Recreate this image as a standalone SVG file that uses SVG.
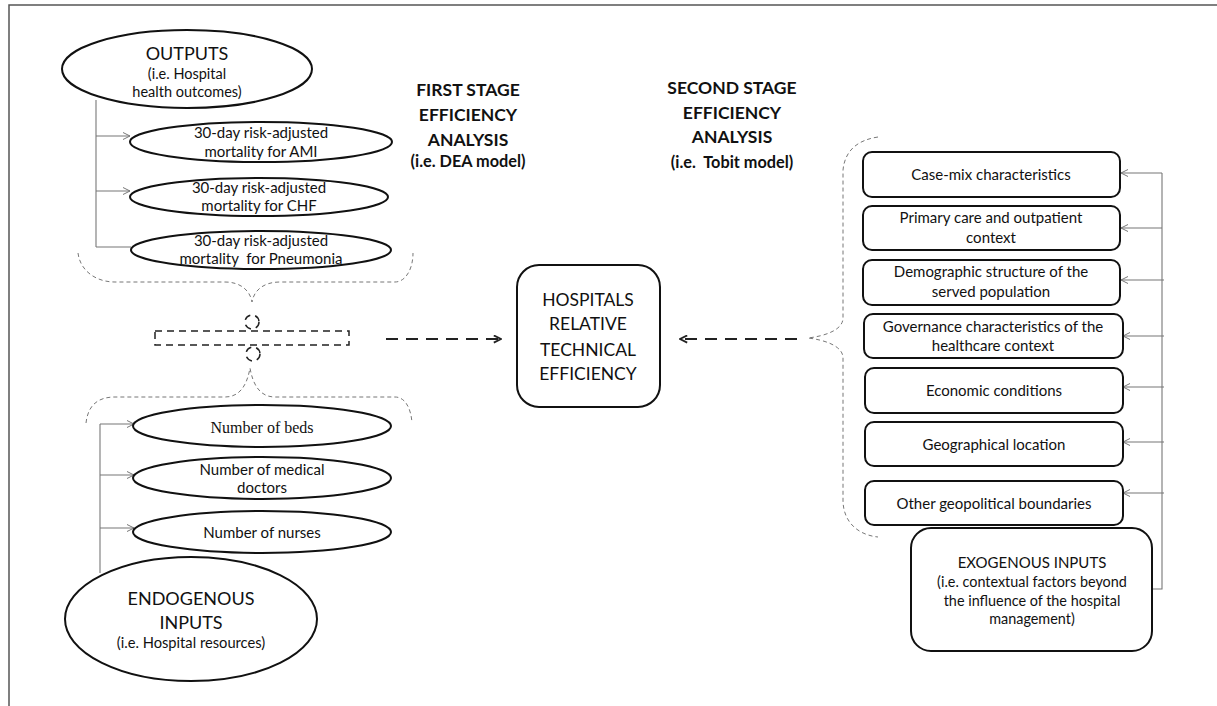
<svg xmlns="http://www.w3.org/2000/svg" width="1217" height="706" viewBox="0 0 1217 706">
<defs>
<style>
.t{font-family:Lato,"Liberation Sans",sans-serif;fill:#111;text-anchor:middle}
.s14{font-size:15px}
.b{font-weight:bold}
.node{fill:#fff;stroke:#111;stroke-width:2}
.link{fill:none;stroke:#777;stroke-width:1.1}
.brace{fill:none;stroke:#777;stroke-width:1;stroke-dasharray:4 3}
.dash{fill:none;stroke:#222;stroke-width:1.5;stroke-dasharray:7 5}
.bigdash{fill:none;stroke:#222;stroke-width:2;stroke-dasharray:12 8}
</style>
<marker id="ah" viewBox="0 0 8 8" refX="7.5" refY="4" markerWidth="8" markerHeight="8" markerUnits="userSpaceOnUse" orient="auto">
<path d="M0.5,0.5 L7.5,4 L0.5,7.5" fill="none" stroke="#777" stroke-width="1"/>
</marker>
<marker id="ahd" viewBox="0 0 10 10" refX="9" refY="5" markerWidth="9" markerHeight="9" markerUnits="userSpaceOnUse" orient="auto">
<path d="M1,1 L9,5 L1,9" fill="none" stroke="#222" stroke-width="2"/>
</marker>
</defs>
<rect width="1217" height="706" fill="#fff"/>
<path d="M9,706 L9,5 L1217,5" fill="none" stroke="#555" stroke-width="1.5"/>

<g id="connectors">
<path class="link" d="M96,100 L96,247"/>
<path class="link" d="M96,136 L130,136" marker-end="url(#ah)"/>
<path class="link" d="M96,191 L130,191" marker-end="url(#ah)"/>
<path class="link" d="M96,247 L131,247"/>
<path class="link" d="M100,573 L100,424"/>
<path class="link" d="M100,424 L134,424" marker-end="url(#ah)"/>
<path class="link" d="M100,475 L134,475" marker-end="url(#ah)"/>
<path class="link" d="M100,528 L134,528" marker-end="url(#ah)"/>
<path class="link" d="M1152,589 L1162,589 L1162,173"/>
<path class="link" d="M1162,173 L1121,173" marker-end="url(#ah)"/>
<path class="link" d="M1162,228 L1121,228" marker-end="url(#ah)"/>
<path class="link" d="M1164,280 L1121,280" marker-end="url(#ah)"/>
<path class="link" d="M1164,336 L1123,336" marker-end="url(#ah)"/>
<path class="link" d="M1164,387 L1123,387" marker-end="url(#ah)"/>
<path class="link" d="M1164,442 L1123,442" marker-end="url(#ah)"/>
<path class="link" d="M1164,493 L1123,493" marker-end="url(#ah)"/>
<path class="brace" d="M78,253 C80,270 95,282 115,282 L225,282 C240,282 250,290 252,302 C254,290 264,282 280,282 L395,282 C405,282 413,270 413,253"/>
<path class="brace" d="M86,423 C88,405 98,397 115,397 L225,397 C240,397 247,385 250,368 C253,385 260,397 275,397 L395,397 C405,397 411,408 412,423"/>
<path class="brace" d="M878,137 C858,140 845,150 843,170 L843,318 C843,330 825,336 808,338 C825,340 843,346 843,358 L843,500 C843,522 858,535 878,537"/>
<path class="bigdash" d="M386,339 L501,339" marker-end="url(#ahd)"/>
<path class="bigdash" d="M797,339 L680,339" marker-end="url(#ahd)"/>
</g>

<g id="join">
<circle class="dash" cx="252" cy="322" r="7" stroke-dasharray="6 4"/>
<rect class="dash" x="155" y="331" width="194" height="14"/>
<circle class="dash" cx="253" cy="354" r="7" stroke-dasharray="6 4"/>
</g>

<g id="outputs">
<ellipse class="node" cx="187" cy="69" rx="125" ry="39"/>
<text class="t" x="187" y="60" font-size="18">OUTPUTS</text>
<text class="t" x="187" y="79" font-size="14.5">(i.e. Hospital</text>
<text class="t" x="187" y="97" font-size="14.5">health outcomes)</text>
</g>
<g id="out-ami">
<ellipse class="node" cx="261" cy="142" rx="131" ry="20"/>
<text class="t s14" x="261" y="138">30-day risk-adjusted</text>
<text class="t s14" x="261" y="157">mortality for AMI</text>
</g>
<g id="out-chf">
<ellipse class="node" cx="259" cy="197" rx="129" ry="19"/>
<text class="t s14" x="259" y="193">30-day risk-adjusted</text>
<text class="t s14" x="259" y="211">mortality for CHF</text>
</g>
<g id="out-pneu">
<ellipse class="node" cx="261" cy="250" rx="130" ry="19"/>
<text class="t s14" x="261" y="246">30-day risk-adjusted</text>
<text class="t s14" x="261" y="264" xml:space="preserve">mortality  for Pneumonia</text>
</g>

<g id="in-beds">
<ellipse class="node" cx="262" cy="426" rx="129" ry="21"/>
<text x="262" y="433" font-family="'Liberation Serif',serif" font-size="16" text-anchor="middle" fill="#111">Number of beds</text>
</g>
<g id="in-doctors">
<ellipse class="node" cx="262" cy="478" rx="129" ry="21"/>
<text class="t s14" x="262" y="475">Number of medical</text>
<text class="t s14" x="262" y="493">doctors</text>
</g>
<g id="in-nurses">
<ellipse class="node" cx="262" cy="532" rx="129" ry="21"/>
<text class="t s14" x="262" y="538">Number of nurses</text>
</g>
<g id="endogenous">
<ellipse class="node" cx="191" cy="619" rx="126" ry="62"/>
<text class="t" x="191" y="605" font-size="18">ENDOGENOUS</text>
<text class="t" x="191" y="629" font-size="18">INPUTS</text>
<text class="t" x="191" y="648" font-size="14.7">(i.e. Hospital resources)</text>
</g>

<g id="first-stage">
<text class="t b" x="468" y="96" font-size="17.5">FIRST STAGE</text>
<text class="t b" x="468" y="121" font-size="17.5">EFFICIENCY</text>
<text class="t b" x="468" y="146" font-size="17.5">ANALYSIS</text>
<text class="t b" x="468" y="167" font-size="16.3">(i.e. DEA model)</text>
</g>
<g id="second-stage">
<text class="t b" x="732" y="94" font-size="17.5">SECOND STAGE</text>
<text class="t b" x="732" y="119" font-size="17.5">EFFICIENCY</text>
<text class="t b" x="732" y="143" font-size="17.5">ANALYSIS</text>
<text class="t b" x="732" y="168" font-size="16.3" xml:space="preserve">(i.e.  Tobit model)</text>
</g>

<g id="hospitals">
<rect class="node" x="517" y="265" width="143" height="142" rx="22"/>
<text class="t" x="588" y="306" font-size="17.5">HOSPITALS</text>
<text class="t" x="588" y="330" font-size="17.5">RELATIVE</text>
<text class="t" x="588" y="356" font-size="17.5">TECHNICAL</text>
<text class="t" x="588" y="380" font-size="17.5">EFFICIENCY</text>
</g>

<g id="casemix">
<rect class="node" x="863" y="152" width="257" height="45" rx="9"/>
<text class="t s14" x="991" y="180">Case-mix characteristics</text>
</g>
<g id="primary">
<rect class="node" x="863" y="206" width="257" height="44" rx="9"/>
<text class="t s14" x="991" y="223">Primary care and outpatient</text>
<text class="t s14" x="991" y="243">context</text>
</g>
<g id="demographic">
<rect class="node" x="863" y="260" width="257" height="45" rx="9"/>
<text class="t s14" x="991" y="277">Demographic structure of the</text>
<text class="t s14" x="991" y="297">served population</text>
</g>
<g id="governance">
<rect class="node" x="864" y="314" width="259" height="44" rx="9"/>
<text class="t s14" x="993" y="332">Governance characteristics of the</text>
<text class="t s14" x="993" y="351">healthcare context</text>
</g>
<g id="economic">
<rect class="node" x="865" y="368" width="258" height="45" rx="9"/>
<text class="t s14" x="994" y="396">Economic conditions</text>
</g>
<g id="geographical">
<rect class="node" x="865" y="422" width="258" height="44" rx="9"/>
<text class="t s14" x="994" y="450">Geographical location</text>
</g>
<g id="other">
<rect class="node" x="865" y="481" width="258" height="44" rx="9"/>
<text class="t s14" x="994" y="509">Other geopolitical boundaries</text>
</g>
<g id="exogenous">
<rect class="node" x="911" y="528" width="241" height="123" rx="20"/>
<text class="t" x="1032" y="568" font-size="15">EXOGENOUS INPUTS</text>
<text class="t" x="1032" y="587" font-size="14.4">(i.e. contextual factors beyond</text>
<text class="t" x="1032" y="606" font-size="14.4">the influence of the hospital</text>
<text class="t" x="1032" y="624" font-size="14.4">management)</text>
</g>
</svg>
